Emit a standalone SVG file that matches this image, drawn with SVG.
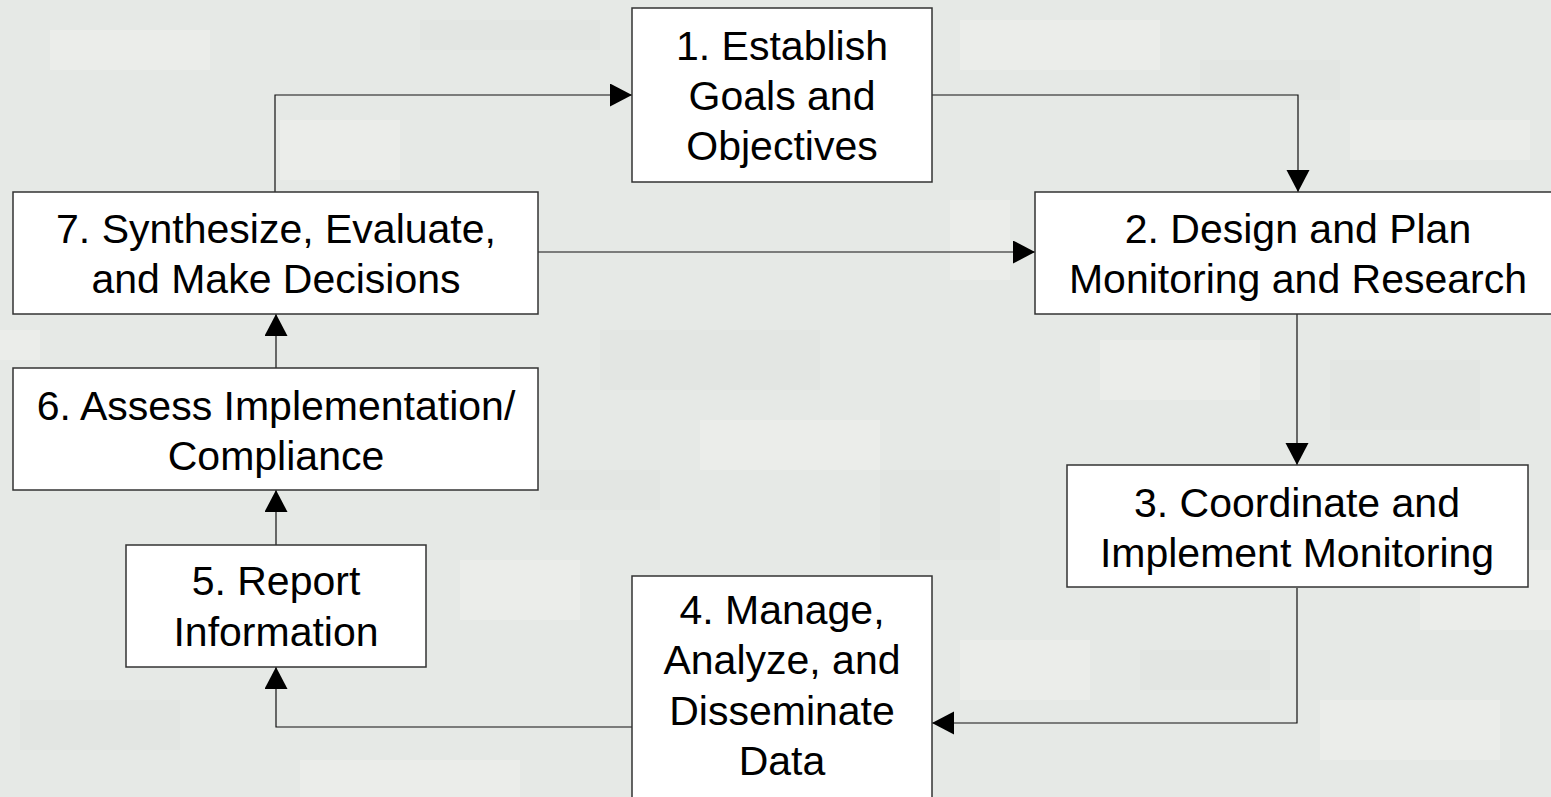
<svg xmlns="http://www.w3.org/2000/svg" width="1551" height="797" viewBox="0 0 1551 797">
<style>
.node rect{fill:#ffffff;stroke:#333333;stroke-width:1.5}
.node text{font-family:"Liberation Sans",Arial,sans-serif;font-size:41px;fill:#000000;text-anchor:middle}
.conn path{fill:none;stroke:#111111;stroke-width:1.2;marker-end:url(#ah)}
.bg1{fill:#eef1ed;opacity:0.55}
.bg2{fill:#dce1dc;opacity:0.35}
</style>
<defs>
<marker id="ah" markerUnits="userSpaceOnUse" markerWidth="23" markerHeight="24" refX="22" refY="11.5" orient="auto">
<path d="M0,0 L22,11.5 L0,23 z" fill="#000000"/>
</marker>
</defs>
<g id="background">
<rect x="0" y="0" width="1551" height="797" fill="#e6e9e6"/>
<rect class="bg1" x="50" y="30" width="160" height="40"/>
<rect class="bg1" x="280" y="120" width="120" height="60"/>
<rect class="bg2" x="420" y="20" width="180" height="30"/>
<rect class="bg1" x="0" y="330" width="40" height="30"/>
<rect class="bg1" x="960" y="20" width="200" height="50"/>
<rect class="bg2" x="1200" y="60" width="140" height="40"/>
<rect class="bg1" x="1350" y="120" width="180" height="40"/>
<rect class="bg1" x="950" y="200" width="60" height="80"/>
<rect class="bg2" x="600" y="330" width="220" height="60"/>
<rect class="bg1" x="700" y="420" width="180" height="50"/>
<rect class="bg2" x="880" y="470" width="120" height="90"/>
<rect class="bg1" x="1100" y="340" width="160" height="60"/>
<rect class="bg2" x="1330" y="360" width="150" height="70"/>
<rect class="bg1" x="960" y="640" width="130" height="60"/>
<rect class="bg2" x="1140" y="650" width="130" height="40"/>
<rect class="bg1" x="1320" y="700" width="180" height="60"/>
<rect class="bg1" x="460" y="560" width="120" height="60"/>
<rect class="bg2" x="20" y="700" width="160" height="50"/>
<rect class="bg1" x="300" y="760" width="220" height="37"/>
<rect class="bg1" x="1420" y="550" width="131" height="80"/>
<rect class="bg2" x="540" y="470" width="120" height="40"/>
</g>
<g id="connectors" class="conn">
<path d="M275,192 L275,95 L632,95"/>
<path d="M932,95 L1298,95 L1298,192"/>
<path d="M538,252 L1035,252"/>
<path d="M1297,314 L1297,465"/>
<path d="M1297,588 L1297,723 L932,723"/>
<path d="M632,727 L276,727 L276,667"/>
<path d="M276,545 L276,490"/>
<path d="M276,368 L276,314"/>
</g>
<g id="node1" class="node">
<rect x="632" y="8" width="300" height="174"/>
<text x="782" y="60">1. Establish</text>
<text x="782" y="110">Goals and</text>
<text x="782" y="160">Objectives</text>
</g>
<g id="node2" class="node">
<rect x="1035" y="192" width="530" height="122"/>
<text x="1298" y="243">2. Design and Plan</text>
<text x="1298" y="293">Monitoring and Research</text>
</g>
<g id="node3" class="node">
<rect x="1067" y="465" width="461" height="122"/>
<text x="1297" y="517">3. Coordinate and</text>
<text x="1297" y="567">Implement Monitoring</text>
</g>
<g id="node4" class="node">
<rect x="632" y="576" width="300" height="240"/>
<text x="782" y="624">4. Manage,</text>
<text x="782" y="674">Analyze, and</text>
<text x="782" y="725">Disseminate</text>
<text x="782" y="775">Data</text>
</g>
<g id="node5" class="node">
<rect x="126" y="545" width="300" height="122"/>
<text x="276" y="595">5. Report</text>
<text x="276" y="646">Information</text>
</g>
<g id="node6" class="node">
<rect x="13" y="368" width="525" height="122"/>
<text x="276" y="420">6. Assess Implementation/</text>
<text x="276" y="470">Compliance</text>
</g>
<g id="node7" class="node">
<rect x="13" y="192" width="525" height="122"/>
<text x="276" y="243">7. Synthesize, Evaluate,</text>
<text x="276" y="293">and Make Decisions</text>
</g>
</svg>
